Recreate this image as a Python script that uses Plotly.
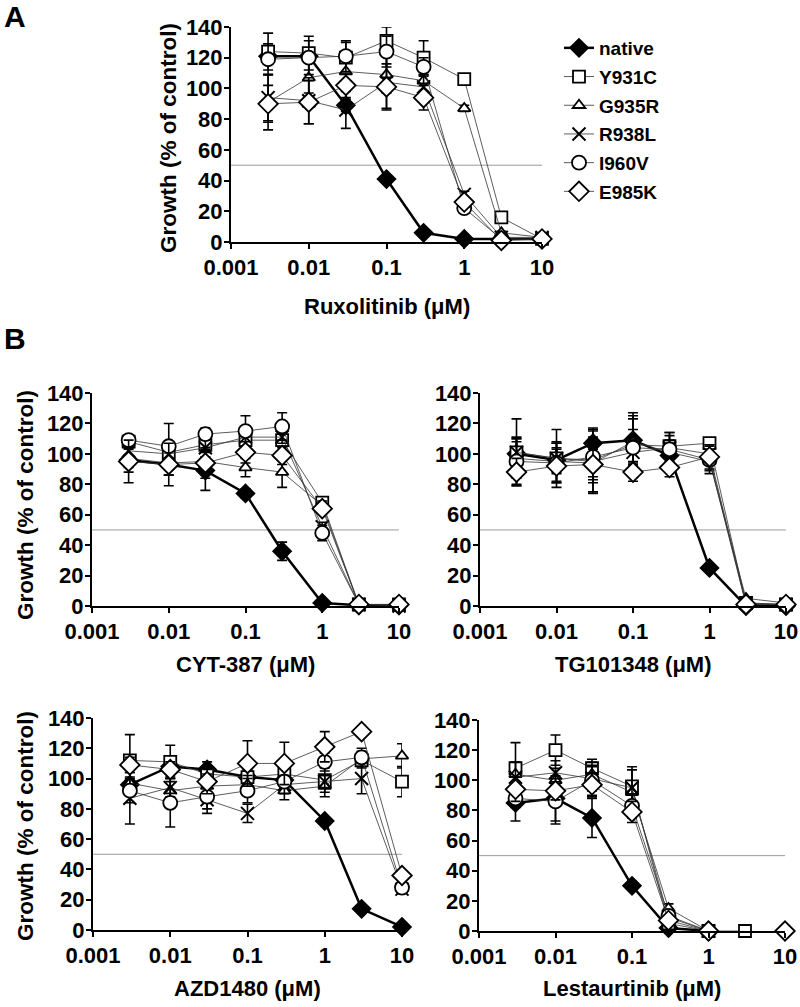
import plotly.graph_objects as go

# ---------------- data ----------------
conc = [0.003, 0.01, 0.03, 0.1, 0.3, 1, 3, 10]
series_names = ["native", "Y931C", "G935R", "R938L", "I960V", "E985K"]
x_ticks = [0.001, 0.01, 0.1, 1, 10]
x_tick_labels = ["0.001", "0.01", "0.1", "1", "10"]
y_ticks = [0, 20, 40, 60, 80, 100, 120, 140]

# Panel A - Ruxolitinib
rux_native = [121, 121, 89, 41, 6, 2, 2, 2]
rux_native_err = [2, 3, 4, 2, 1, 1, 1, 1]
rux_Y931C = [124, 123, 120, 131, 120, 106, 16, 2]
rux_Y931C_err = [12, 11, 10, 9, 11, 1, 1, 1]
rux_G935R = [91, 107, 111, 109, 105, 87, 6, 3]
rux_G935R_err = [18, 10, 8, 12, 7, 2, 1, 1]
rux_R938L = [94, 92, 86, 104, 101, 31, 3, 3]
rux_R938L_err = [15, 15, 12, 17, 8, 2, 1, 1]
rux_I960V = [119, 120, 121, 124, 114, 22, 2, 2]
rux_I960V_err = [10, 11, 10, 10, 6, 2, 1, 1]
rux_E985K = [90, 91, 102, 101, 94, 26, 1, 2]
rux_E985K_err = [12, 14, 8, 15, 8, 2, 1, 1]

# Panel B1 - CYT-387
cyt_native = [96, 93, 89, 74, 36, 2, 0.5, 0.5]
cyt_native_err = [8, 7, 13, 3, 6, 1, 0.5, 0.5]
cyt_Y931C = [108, 101, 106, 109, 109, 68, 1, 1]
cyt_Y931C_err = [4, 6, 5, 6, 5, 3, 1, 1]
cyt_G935R = [97, 94, 95, 91, 88, 66, 1, 1]
cyt_G935R_err = [6, 8, 8, 6, 10, 3, 1, 1]
cyt_R938L = [102, 100, 104, 111, 111, 52, 1, 0]
cyt_R938L_err = [5, 6, 6, 7, 4, 3, 1, 1]
cyt_I960V = [109, 105, 113, 115, 118, 48, 1, 1]
cyt_I960V_err = [3, 15, 4, 10, 9, 5, 1, 1]
cyt_E985K = [95, 93, 94, 101, 99, 64, 1, 1]
cyt_E985K_err = [14, 14, 10, 7, 6, 3, 1, 1]

# Panel B2 - TG101348
tg_native = [100, 96, 107, 109, 99, 25, 0, 0]
tg_native_err = [8, 8, 8, 14, 4, 2, 1, 1]
tg_Y931C = [101, 97, 96, 106, 105, 107, 2, 1]
tg_Y931C_err = [22, 19, 21, 21, 7, 3, 1, 1]
tg_G935R = [97, 95, 94, 108, 101, 95, 5, 2]
tg_G935R_err = [13, 13, 13, 17, 8, 6, 1, 1]
tg_R938L = [101, 97, 95, 101, 104, 100, 2, 1]
tg_R938L_err = [10, 10, 21, 8, 10, 6, 1, 1]
tg_I960V = [95, 94, 98, 104, 103, 96, 1, 1]
tg_I960V_err = [15, 13, 13, 12, 11, 9, 1, 1]
tg_E985K = [88, 92, 93, 88, 91, 98, 1, 1]
tg_E985K_err = [9, 11, 10, 6, 6, 8, 1, 1]

# Panel B3 - AZD1480
azd_native = [96, 108, 106, 101, 99, 72, 14, 2]
azd_native_err = [3, 5, 5, 3, 3, 2, 2, 1]
azd_Y931C = [112, 111, 103, 101, 103, 99, 112, 98]
azd_Y931C_err = [17, 11, 5, 5, 5, 8, 5, 10]
azd_G935R = [97, 92, 95, 96, 92, 95, 113, 115]
azd_G935R_err = [4, 6, 8, 6, 6, 7, 5, 8]
azd_R938L = [87, 94, 86, 77, 96, 98, 100, 27]
azd_R938L_err = [17, 6, 9, 6, 6, 4, 10, 3]
azd_I960V = [92, 84, 88, 92, 98, 111, 114, 28]
azd_I960V_err = [8, 16, 8, 8, 4, 6, 6, 3]
azd_E985K = [109, 106, 98, 110, 110, 121, 131, 36]
azd_E985K_err = [5, 5, 8, 15, 14, 10, 3, 3]

# Panel B4 - Lestaurtinib
les_native = [85, 88, 75, 30, 2, 0, None, None]
les_native_err = [12, 15, 13, 3, 1, 0, 0, 0]
les_Y931C = [108, 120, 108, 96, 5, 0, 0, None]
les_Y931C_err = [17, 10, 6, 13, 2, 0, 0, 0]
les_G935R = [104, 100, 104, 92, 15, 0, None, None]
les_G935R_err = [8, 8, 8, 15, 3, 0, 0, 0]
les_R938L = [102, 105, 101, 95, 9, 0, None, None]
les_R938L_err = [10, 8, 8, 12, 3, 0, 0, 0]
les_I960V = [88, 86, 100, 83, 10, 0, None, None]
les_I960V_err = [6, 15, 10, 8, 3, 0, 0, 0]
les_E985K = [94, 93, 97, 79, 7, 0, None, 0]
les_E985K_err = [8, 6, 8, 7, 2, 0, 0, 0]

panels = [
    ("Ruxolitinib (μM)", [rux_native, rux_Y931C, rux_G935R, rux_R938L, rux_I960V, rux_E985K],
     [rux_native_err, rux_Y931C_err, rux_G935R_err, rux_R938L_err, rux_I960V_err, rux_E985K_err]),
    ("CYT-387 (μM)", [cyt_native, cyt_Y931C, cyt_G935R, cyt_R938L, cyt_I960V, cyt_E985K],
     [cyt_native_err, cyt_Y931C_err, cyt_G935R_err, cyt_R938L_err, cyt_I960V_err, cyt_E985K_err]),
    ("TG101348 (μM)", [tg_native, tg_Y931C, tg_G935R, tg_R938L, tg_I960V, tg_E985K],
     [tg_native_err, tg_Y931C_err, tg_G935R_err, tg_R938L_err, tg_I960V_err, tg_E985K_err]),
    ("AZD1480 (μM)", [azd_native, azd_Y931C, azd_G935R, azd_R938L, azd_I960V, azd_E985K],
     [azd_native_err, azd_Y931C_err, azd_G935R_err, azd_R938L_err, azd_I960V_err, azd_E985K_err]),
    ("Lestaurtinib (μM)", [les_native, les_Y931C, les_G935R, les_R938L, les_I960V, les_E985K],
     [les_native_err, les_Y931C_err, les_G935R_err, les_R938L_err, les_I960V_err, les_E985K_err]),
]

# ---------------- styling ----------------
W, H = 800, 1007
FONT = "Liberation Sans, Arial, sans-serif"

# plot areas in pixels: (left, right, top, bottom)
areas = [
    (231, 542, 27, 242),
    (92, 399, 393, 606),
    (480, 786, 393, 606),
    (93, 402, 718, 930),
    (479, 785, 720, 931),
]
ytitle_pos = [(168, 138), (25, 505), None, (25, 826), None]
xtitle_y = [307, 664, 664, 988, 988]

styles = {
    "native": dict(symbol="diamond", size=14, color="black", lw=1.5, lcolor="black", linew=2.5),
    "Y931C": dict(symbol="square", size=12, color="white", lw=1.8, lcolor="black", linew=0.8),
    "G935R": dict(symbol="triangle-up", size=11, color="white", lw=1.8, lcolor="black", linew=0.8),
    "R938L": dict(symbol="x-thin-open", size=13, color="black", lw=2.0, lcolor="black", linew=0.8),
    "I960V": dict(symbol="circle", size=14, color="white", lw=1.8, lcolor="black", linew=0.8),
    "E985K": dict(symbol="diamond", size=15, color="white", lw=1.8, lcolor="black", linew=0.8),
}

fig = go.Figure()
annotations = []
shapes = []

for i, (title, vals, errs) in enumerate(panels):
    sfx = "" if i == 0 else str(i + 1)
    xa, ya = "x" + sfx, "y" + sfx
    for name, v, e in zip(series_names, vals, errs):
        st = styles[name]
        fig.add_trace(go.Scatter(
            x=conc, y=v, name=name, mode="lines+markers", legendgroup=name if i == 0 else None,
            xaxis=xa, yaxis=ya, showlegend=(i == 0), cliponaxis=False,
            line=dict(color="black" if name == "native" else "#333333", width=st["linew"]),
            marker=dict(symbol=st["symbol"], size=st["size"], color=st["color"],
                        line=dict(color=st["lcolor"], width=st["lw"])),
            error_y=dict(type="data", array=e, color="black", thickness=1.6, width=5),
        ))
    l, r, t, b = areas[i]
    dom_x = [l / W, r / W]
    dom_y = [1 - b / H, 1 - t / H]
    axis_common = dict(showline=True, linecolor="black", linewidth=2, ticks="outside",
                       ticklen=5, tickwidth=2, tickcolor="black", showgrid=False, zeroline=False,
                       automargin=False,
                       tickfont=dict(family=FONT, size=22, color="black", weight="bold"))
    fig.update_layout(**{
        ("xaxis" + sfx): dict(domain=dom_x, type="log", range=[-3, 1], tickvals=x_ticks,
                              ticktext=x_tick_labels, anchor=ya, **axis_common),
        ("yaxis" + sfx): dict(domain=dom_y, range=[0, 140], tickvals=y_ticks, anchor=xa,
                              ticklabelstandoff=-3, **axis_common),
    })
    shapes.append(dict(type="line", xref=xa, yref=ya, x0=0.001, x1=10, y0=50, y1=50,
                       line=dict(color="#9a9a9a", width=1), layer="below"))
    annotations.append(dict(text=title, xref="paper", yref="paper", x=(l + r) / 2 / W,
                            y=1 - xtitle_y[i] / H, showarrow=False, xanchor="center", yanchor="middle",
                            font=dict(family=FONT, size=22, color="black", weight="bold")))
    if ytitle_pos[i]:
        px, py = ytitle_pos[i]
        annotations.append(dict(text="Growth (% of control)", xref="paper", yref="paper",
                                x=px / W, y=1 - py / H, textangle=-90, showarrow=False,
                                xanchor="center", yanchor="middle",
                                font=dict(family=FONT, size=22.5, color="black", weight="bold")))

for lab, px, py in [("A", 15, 17), ("B", 15, 338)]:
    annotations.append(dict(text=lab, xref="paper", yref="paper", x=px / W, y=1 - py / H,
                            showarrow=False, xanchor="center", yanchor="middle",
                            font=dict(family=FONT, size=30, color="black", weight="bold")))

fig.update_layout(
    width=W, height=H, margin=dict(l=0, r=0, t=0, b=0, autoexpand=False),
    paper_bgcolor="white", plot_bgcolor="white",
    annotations=annotations, shapes=shapes,
    legend=dict(x=559 / W, y=1 - 29 / H, xanchor="left", yanchor="top",
                font=dict(family=FONT, size=19, color="black", weight="bold"),
                bgcolor="rgba(0,0,0,0)", tracegroupgap=1, itemwidth=30),
)

fig.write_html("out.html", config={"displayModeBar": False},
               post_script="document.body.style.margin='0px';")
